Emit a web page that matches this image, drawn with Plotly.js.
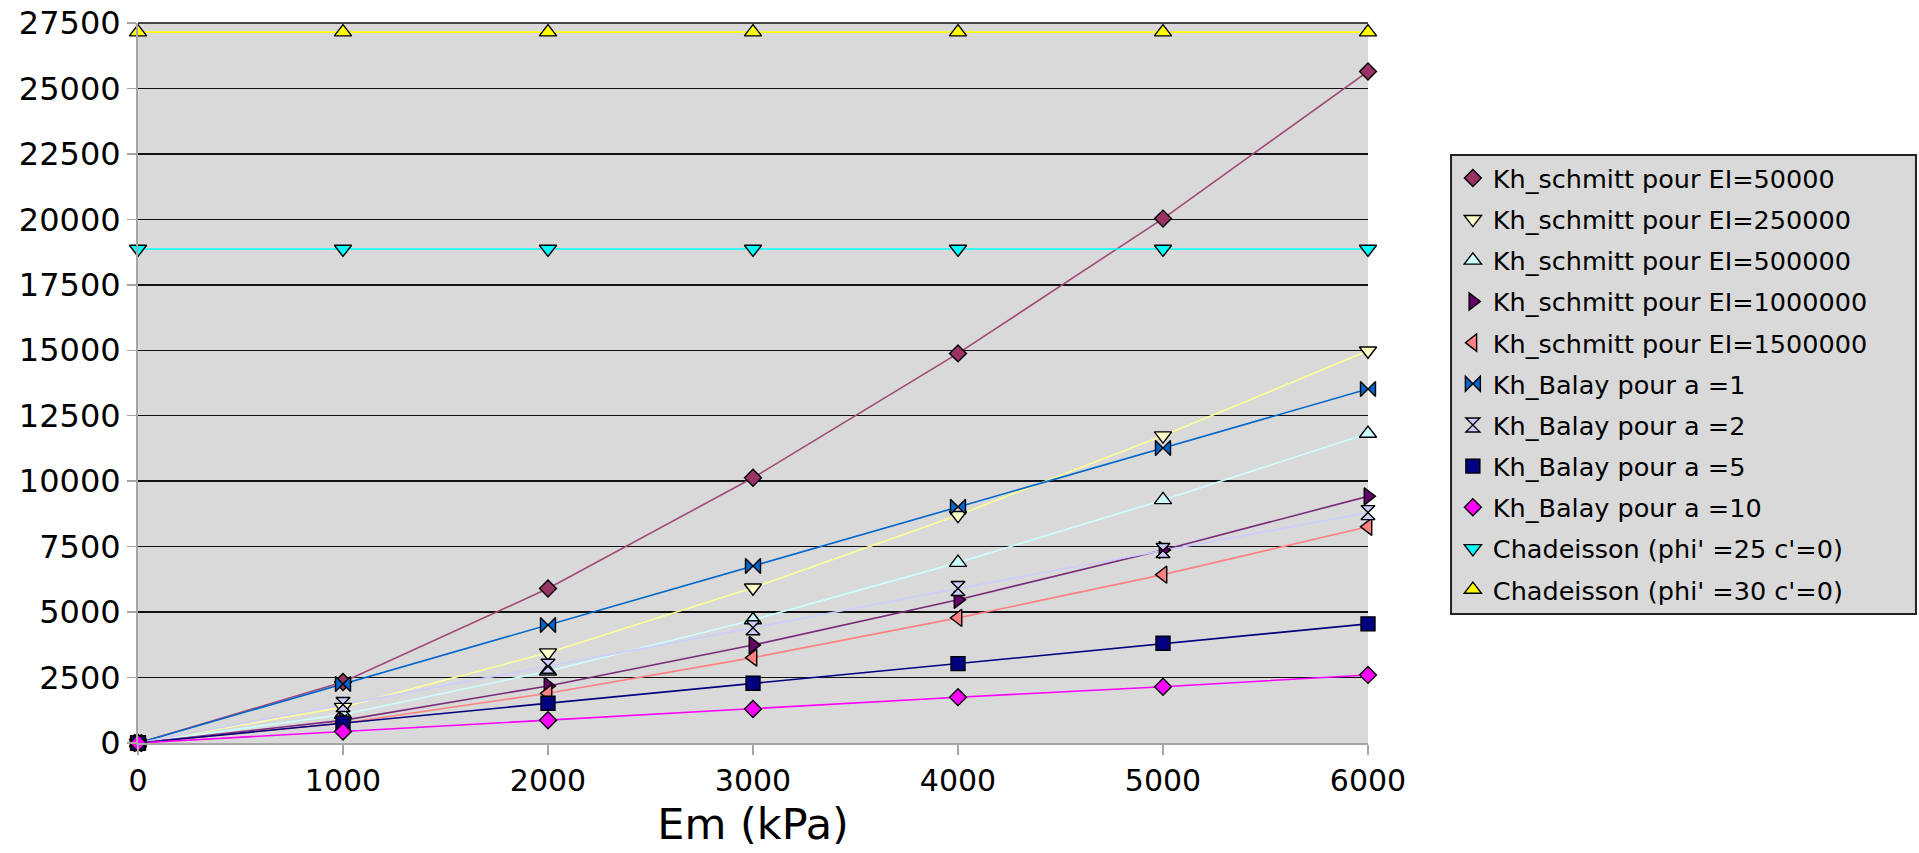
<!DOCTYPE html>
<html>
<head>
<meta charset="utf-8">
<script src="https://cdn.plot.ly/plotly-3.0.1.min.js"></script>
<style>
html,body{margin:0;padding:0;background:#fff;}
#chart{width:1919px;height:853px;}
</style>
</head>
<body>
<div id="chart"></div>
<script>
// Em (kPa)
const em = [0, 1000, 2000, 3000, 4000, 5000, 6000];

// Series values
const schmitt50000   = [0, 2330, 5900, 10130, 14880, 20030, 25650];
const schmitt250000  = [0, 1370, 3450, 5930, 8700, 11740, 14980];
const schmitt500000  = [0, 1090, 2740, 4700, 6890, 9285, 11820];
const schmitt1000000 = [0, 865, 2180, 3740, 5470, 7375, 9420];
const schmitt1500000 = [0, 755, 1900, 3260, 4780, 6430, 8260];
const balay1  = [0, 2250, 4510, 6760, 9020, 11270, 13520];
const balay2  = [0, 1470, 2930, 4400, 5900, 7350, 8800];
const balay5  = [0, 760, 1520, 2280, 3030, 3810, 4550];
const balay10 = [0, 435, 870, 1300, 1750, 2150, 2600];
const chadeisson25 = [18870, 18870, 18870, 18870, 18870, 18870, 18870];
const chadeisson30 = [27150, 27150, 27150, 27150, 27150, 27150, 27150];

const seriesNames = [
  "Kh_schmitt pour EI=50000",
  "Kh_schmitt pour EI=250000",
  "Kh_schmitt pour EI=500000",
  "Kh_schmitt pour EI=1000000",
  "Kh_schmitt pour EI=1500000",
  "Kh_Balay pour a =1",
  "Kh_Balay pour a =2",
  "Kh_Balay pour a =5",
  "Kh_Balay pour a =10",
  "Chadeisson (phi' =25 c'=0)",
  "Chadeisson (phi' =30 c'=0)"
];
const seriesValues = [schmitt50000, schmitt250000, schmitt500000, schmitt1000000, schmitt1500000,
  balay1, balay2, balay5, balay10, chadeisson25, chadeisson30];

const lineColors   = ["#a04a78", "#ffff99", "#ccffff", "#7a2a7a", "#ff8080", "#0066cc", "#ccccff", "#000080", "#ff00ff", "#00ffff", "#ffff00"];
const markerColors = ["#993366", "#ffffcc", "#ccffff", "#660066", "#ff8080", "#0066cc", "#ccccff", "#000080", "#ff00ff", "#00ffff", "#ffff00"];
const symbols = ["diamond", "triangle-down", "triangle-up", "triangle-right", "triangle-left", "bowtie", "hourglass", "square", "diamond", "triangle-down", "triangle-up"];
const sizes   = [13, 15, 15, 15, 15, 15, 14, 14, 13, 15, 15];

const FONT = "DejaVu Sans";
const traces = [];
seriesValues.forEach((vals, i) => {
  traces.push({
    x: em, y: vals, type: "scatter", mode: "lines",
    line: {color: lineColors[i], width: 1.6},
    showlegend: false, hoverinfo: "skip", cliponaxis: false
  });
});
seriesValues.forEach((vals, i) => {
  traces.push({
    x: em, y: vals, type: "scatter", mode: "markers",
    name: seriesNames[i], legendgroup: "g" + i,
    marker: {symbol: symbols[i], size: sizes[i], color: markerColors[i], line: {color: "#000", width: 1.4}},
    cliponaxis: false
  });
});

const layout = {
  width: 1919, height: 853,
  paper_bgcolor: "#ffffff",
  plot_bgcolor: "#d9d9d9",
  margin: {l: 138, r: 551, t: 23, b: 110, pad: 0},
  font: {family: FONT, color: "#000"},
  showlegend: true,
  xaxis: {
    range: [0, 6000], dtick: 1000, tick0: 0, tickformat: "d",
    showgrid: false, zeroline: false,
    showline: true, linecolor: "#a6a6a6", linewidth: 2,
    ticks: "outside", ticklen: 10, tickcolor: "#a6a6a6", tickwidth: 1.5,
    tickfont: {family: FONT, size: 30, color: "#000"},
    title: {text: "Em (kPa)", font: {family: FONT, size: 43, color: "#000"}, standoff: 12},
    automargin: false, fixedrange: true
  },
  yaxis: {
    range: [0, 27500], dtick: 2500, tick0: 0, tickformat: "d",
    showgrid: true, gridcolor: "#111", gridwidth: 1.5,
    zeroline: false,
    showline: true, linecolor: "#a6a6a6", linewidth: 2,
    ticks: "outside", ticklen: 9, tickcolor: "#a6a6a6", tickwidth: 1.5,
    tickfont: {family: FONT, size: 32, color: "#000"},
    automargin: false, fixedrange: true
  },
  legend: {
    x: 1.069, xanchor: "left", y: 0.8167, yanchor: "top",
    bgcolor: "rgba(0,0,0,0)", borderwidth: 0,
    font: {family: FONT, size: 25.5, color: "#000"},
    traceorder: "grouped", tracegroupgap: 5,
    itemwidth: 30
  },
  shapes: [
    {type: "rect", xref: "paper", yref: "paper", x0: 1.0675, x1: 1.4455, y0: 0.179, y1: 0.8167,
     fillcolor: "#d9d9d9", line: {color: "#222", width: 2}, layer: "below"},
    {type: "line", xref: "paper", yref: "paper", x0: 0, x1: 1, y0: 1, y1: 1, line: {color: "#111", width: 1.5}}
  ]
};

Plotly.newPlot("chart", traces, layout, {displayModeBar: false, staticPlot: true});
</script>
</body>
</html>
